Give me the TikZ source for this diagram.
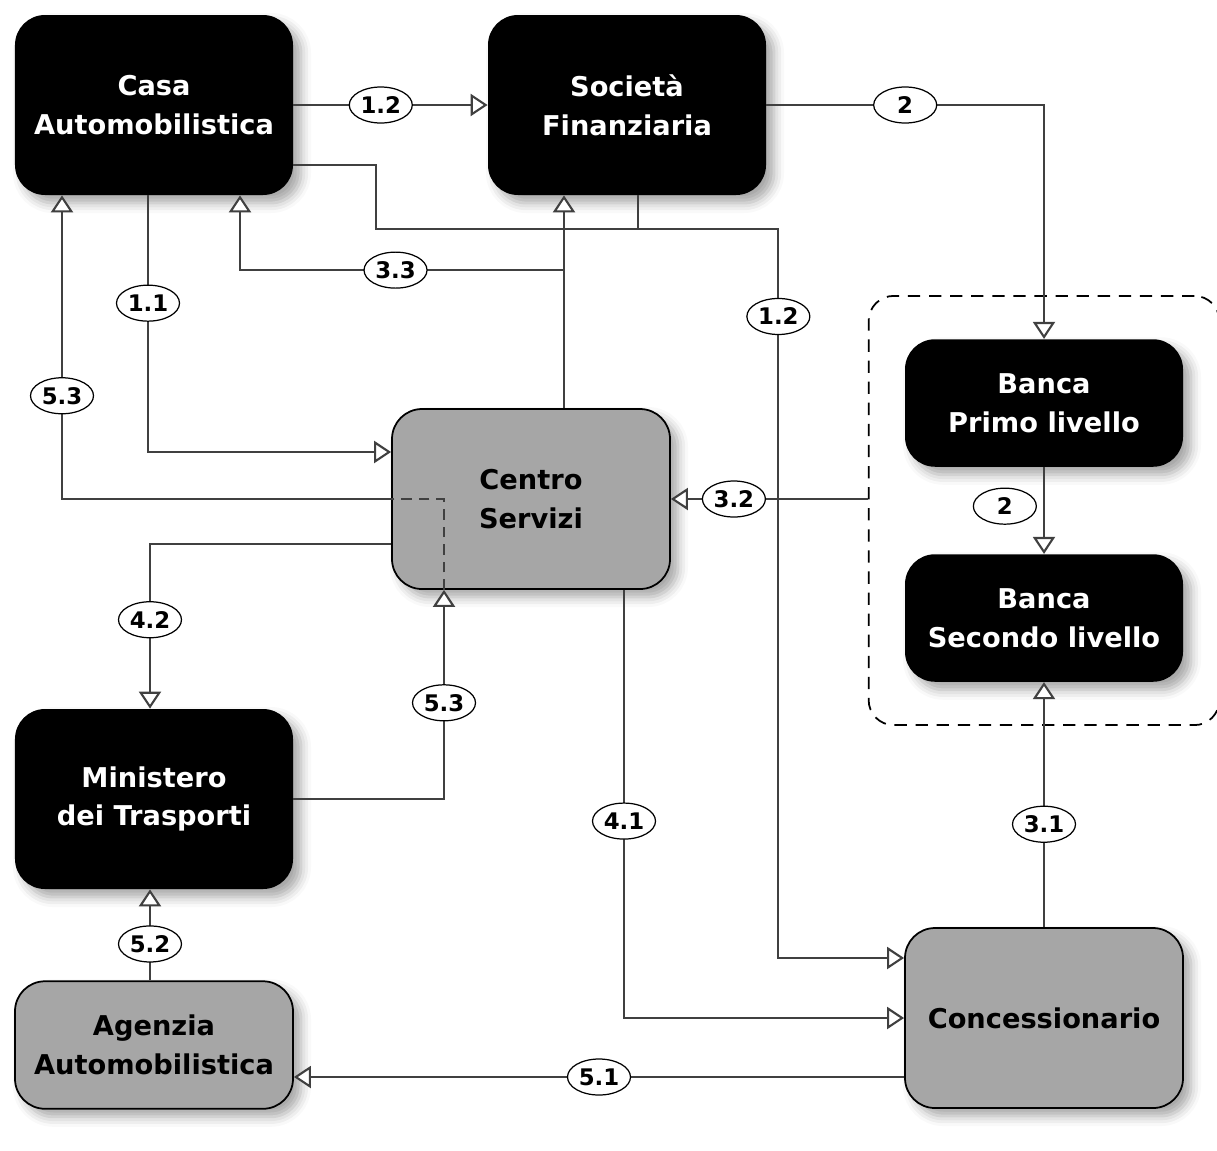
\documentclass[tikz,border=0pt]{standalone}
\usepackage{fontspec}
\setmainfont{DejaVu Sans}
\usetikzlibrary{
  arrows.meta,
  calc,
  fit,
  shadows.blur,
  shapes.geometric
}
\tikzset{
  >={Triangle[fill=white, length=3.4mm, width=4.4mm]},
  box/.style = {rectangle, rounded corners=6mm, align=center,
    minimum width=5.56cm, minimum height=3.6cm,
    font=\bfseries\fontsize{15.5}{22}\selectfont,
    blur shadow={shadow xshift=1.6mm, shadow yshift=-1.6mm,
      shadow blur radius=2mm, shadow opacity=35}},
  actor/.style = {box, fill=black, text=white},
  office/.style = {box, fill=gray!70, draw=black, line width=1pt},
  low/.style = {minimum height=2.55cm},
  group/.style = {draw, line width=1pt, rounded corners=5mm,
    dash pattern=on 7pt off 5pt},
  link/.style = {draw=black!75, line width=1.2pt},
  flow/.style = {link, ->},
  tag/.style = {ellipse, draw=black, fill=white, line width=0.7pt,
    minimum width=1.26cm, minimum height=0.72cm, inner sep=0pt,
    font=\bfseries\fontsize{13}{13}\selectfont},
}

\begin{document}
\begin{tikzpicture}[x=0.2mm, y=-0.2mm]
  \useasboundingbox (0,0) rectangle (1217,1150);

  \node[actor] (casa) at (154,105) {Casa\\Automobilistica};
  \node[actor] (soc) at (627,105) {Società\\Finanziaria};
  \node[office] (centro) at (531,499) {Centro\\Servizi};
  \node[actor, low] (bank1) at (1044,403) {Banca\\Primo livello};
  \node[actor, low] (bank2) at (1044,618) {Banca\\Secondo livello};
  \node[group, fit=(bank1)(bank2), inner xsep=0.72cm, inner ysep=0.86cm] (banks) {};
  \node[actor] (mini) at (154,799) {Ministero\\dei Trasporti};
  \node[office, low] (agen) at (154,1045) {Agenzia\\Automobilistica};
  \node[office] (conc) at (1044,1018) {Concessionario};

  \coordinate (cs33) at ($(centro.north)+(33,0)$);
  \coordinate (j33) at ($(cs33)+(0,-138)$);
  \coordinate (c53) at ($(centro.south)+(-87,0)$);

  \draw[flow] (casa.east) -- node[tag, pos=0.45] (t12a) {1.2} (soc.west);
  \draw[flow] (soc.east) -| node[tag, pos=0.25] (t2a) {2} (bank1.north);
  \draw[flow] (bank1) -- node[tag, left=4pt, pos=0.45] (t2b) {2} (bank2);
  \draw[flow] ($(casa.south)+(-6,0)$) |- node[tag, pos=0.21] (t11) {1.1}
    ($(centro.west)+(0,-47)$);
  \draw[flow] (cs33) -- (cs33 |- soc.south);
  \draw[flow] (j33) -| node[tag, pos=0.26] (t33) {3.3} ($(casa.south)+(86,0)$);
  \draw[flow] ($(casa.east)+(0,60)$) -- ++(83,0) -- ++(0,64) -- ++(402,0)
    |- node[tag, pos=0.06] (t12b) {1.2} ($(conc.west)+(0,-60)$);
  \draw[link] ($(soc.south)+(11,0)$) -- ++(0,34);
  \draw[flow] (banks.west |- centro.east) -- node[tag, pos=0.68] (t32) {3.2} (centro.east);
  \draw[flow] ($(centro.west)+(0,45)$) -| node[tag, pos=0.73] (t42) {4.2}
    ($(mini.north)+(-4,0)$);
  \draw[flow] ($(centro.south)+(93,0)$) |- node[tag, pos=0.27] (t41) {4.1} (conc.west);
  \draw[flow] (conc.north) -- node[tag, pos=0.42] (t31) {3.1} (bank2.south);
  \draw[flow] ($(conc.west)+(0,59)$) -- node[tag] (t51) {5.1} ($(agen.east)+(0,32)$);
  \draw[flow] ($(agen.north)+(-4,0)$) -- node[tag, pos=0.4] (t52) {5.2}
    ($(mini.south)+(-4,0)$);
  \draw[flow] (mini.east) -| node[tag, pos=0.73] (t53a) {5.3} (c53);
  \draw[link, dash pattern=on 6pt off 4pt] (c53) |- (centro.west);
  \draw[flow] (centro.west) -| node[tag, pos=0.67] (t53b) {5.3} ($(casa.south)+(-92,0)$);
\end{tikzpicture}
\end{document}
